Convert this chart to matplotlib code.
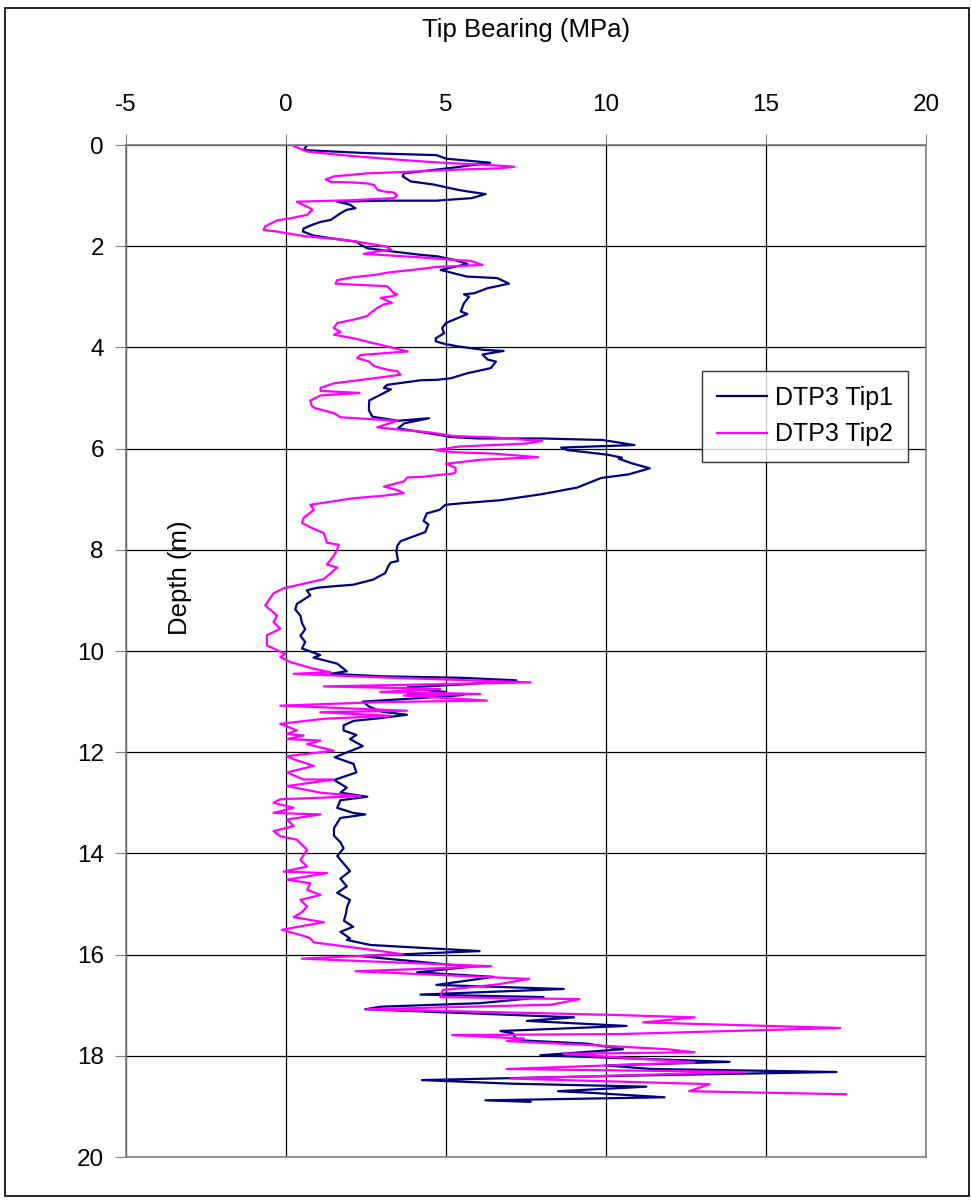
import matplotlib
matplotlib.use("Agg")
import matplotlib.pyplot as plt
from matplotlib.patches import Rectangle

plt.rcParams['font.family'] = ['Liberation Sans', 'DejaVu Sans']
plt.rcParams['axes.unicode_minus'] = False

# DTP3 Tip1 - depth (m) and tip bearing (MPa)
tip1_depth = [0.03, 0.10, 0.16, 0.20, 0.27, 0.35, 0.45, 0.56, 0.62, 0.72, 0.78, 0.89, 0.92, 0.97,
              1.05, 1.10, 1.10, 1.12, 1.18, 1.25, 1.28, 1.35, 1.48, 1.52, 1.59, 1.65, 1.71, 1.79,
              1.86, 1.91, 1.97, 2.04, 2.10, 2.17, 2.20, 2.27, 2.35, 2.47, 2.60, 2.63, 2.74, 2.83,
              2.93, 2.95, 3.00, 3.13, 3.29, 3.34, 3.45, 3.52, 3.62, 3.72, 3.82, 3.88, 3.92, 3.98,
              4.05, 4.07, 4.14, 4.24, 4.28, 4.41, 4.51, 4.61, 4.64, 4.65, 4.74, 4.80, 4.83, 4.92,
              5.05, 5.24, 5.37, 5.45, 5.40, 5.50, 5.60, 5.67, 5.73, 5.77, 5.80, 5.80, 5.83, 5.93,
              5.98, 6.03, 6.12, 6.18, 6.20, 6.29, 6.39, 6.51, 6.58, 6.77, 6.90, 7.02, 7.08, 7.11,
              7.21, 7.28, 7.43, 7.50, 7.65, 7.83, 7.92, 8.03, 8.22, 8.25, 8.32, 8.46, 8.59, 8.69,
              8.72, 8.75, 8.80, 8.90, 9.07, 9.18, 9.30, 9.45, 9.57, 9.70, 9.82, 9.95, 10.08, 10.13,
              10.25, 10.40, 10.45, 10.50, 10.53, 10.58, 10.65, 10.72, 10.77, 10.81, 10.86, 10.87,
              10.93, 11.00, 11.10, 11.20, 11.26, 11.33, 11.38, 11.47, 11.57, 11.66, 11.74, 11.88,
              11.98, 12.10, 12.23, 12.40, 12.55, 12.70, 12.80, 12.88, 12.95, 13.10, 13.20, 13.23,
              13.30, 13.50, 13.65, 13.78, 13.90, 14.05, 14.20, 14.35, 14.50, 14.65, 14.78, 14.92,
              15.05, 15.20, 15.33, 15.45, 15.55, 15.68, 15.71, 15.81, 15.93, 16.03, 16.24, 16.35,
              16.44, 16.60, 16.68, 16.79, 16.84, 16.96, 17.03, 17.08, 17.24, 17.31, 17.41, 17.51,
              17.56, 17.69, 17.76, 17.87, 17.99, 18.12, 18.19, 18.26, 18.32, 18.40, 18.48, 18.55,
              18.61, 18.70, 18.73, 18.82, 18.88, 18.91]
tip1_value = [0.63, 0.55, 2.5, 4.7, 5.0, 6.38, 5.2, 3.68, 3.65, 3.9, 4.6, 5.4, 5.7, 6.24,
              5.8, 4.7, 3.2, 1.6, 2.0, 2.17, 1.9, 1.7, 1.4, 1.08, 0.77, 0.55, 0.53, 0.86,
              1.6, 2.2, 2.33, 2.54, 3.27, 4.2, 4.73, 5.25, 5.67, 4.83, 5.65, 6.6, 6.97, 6.3,
              5.88, 5.56, 5.72, 5.56, 5.46, 5.67, 5.25, 4.99, 4.88, 4.94, 4.68, 4.68, 4.89, 5.36,
              6.2, 6.8, 6.14, 6.3, 6.56, 6.4, 5.67, 5.15, 4.73, 4.2, 3.16, 3.06, 3.28, 3.0,
              2.6, 2.59, 2.7, 3.5, 4.47, 3.7, 3.5, 4.2, 4.8, 5.15, 6.0, 8.0, 9.9, 10.89,
              8.6, 8.8, 10.05, 10.5, 10.4, 10.8, 11.37, 10.7, 9.85, 9.1, 8.0, 6.7, 5.5, 4.98,
              4.8, 4.4, 4.3, 4.45, 4.35, 3.58, 3.48, 3.45, 3.5, 3.28, 3.2, 3.1, 2.72, 2.1,
              1.5, 0.98, 0.65, 0.76, 0.34, 0.29, 0.45, 0.5, 0.6, 0.45, 0.6, 0.5, 1.07, 0.86,
              1.6, 1.9, 1.4, 3.0, 5.5, 7.2, 5.8, 3.78, 4.3, 5.0, 3.8, 5.55,
              4.2, 2.4, 2.6, 3.0, 3.78, 2.9, 2.12, 1.8, 1.8, 2.2, 2.0, 2.4,
              2.0, 1.52, 2.11, 2.2, 1.5, 1.9, 1.7, 2.54, 1.7, 1.6, 2.1, 2.48,
              1.7, 1.5, 1.5, 1.7, 1.8, 1.6, 1.8, 2.0, 1.7, 1.9, 1.6, 2.0,
              1.91, 1.87, 1.81, 2.1, 1.7, 2.0, 1.9, 2.64, 6.05, 2.32, 5.76, 4.1,
              6.49, 4.7, 8.68, 4.2, 8.05, 6.07, 2.95, 2.48, 9.0, 7.53, 10.64, 6.7,
              7.1, 7.2, 9.4, 10.53, 7.95, 13.86, 9.97, 11.4, 17.2, 10.0, 4.25, 7.0,
              11.26, 8.5, 9.47, 11.83, 6.23, 7.64]

# DTP3 Tip2
tip2_depth = [0.02, 0.13, 0.22, 0.30, 0.36, 0.38, 0.41, 0.43, 0.46, 0.49, 0.52, 0.56, 0.62, 0.68,
              0.73, 0.74, 0.76, 0.79, 0.88, 0.92, 0.94, 1.00, 1.05, 1.09, 1.12, 1.16, 1.25, 1.28,
              1.38, 1.45, 1.49, 1.61, 1.68, 1.71, 1.80, 1.86, 1.91, 2.01, 2.06, 2.15, 2.18, 2.22,
              2.27, 2.29, 2.37, 2.41, 2.45, 2.52, 2.57, 2.61, 2.67, 2.74, 2.76, 2.79, 2.93, 2.95,
              2.99, 3.02, 3.12, 3.15, 3.22, 3.32, 3.38, 3.45, 3.52, 3.62, 3.69, 3.75, 3.82, 3.92,
              3.98, 4.08, 4.15, 4.21, 4.28, 4.37, 4.44, 4.47, 4.54, 4.61, 4.71, 4.80, 4.86, 4.90,
              4.95, 5.05, 5.15, 5.20, 5.30, 5.38, 5.45, 5.58, 5.63, 5.68, 5.75, 5.78, 5.85, 5.90,
              5.96, 6.03, 6.07, 6.10, 6.17, 6.22, 6.30, 6.38, 6.46, 6.49, 6.56, 6.57, 6.65, 6.75,
              6.82, 6.88, 6.93, 6.98, 7.08, 7.11, 7.21, 7.37, 7.47, 7.57, 7.67, 7.86, 7.90, 7.99,
              8.12, 8.29, 8.35, 8.58, 8.76, 8.86, 9.10, 9.30, 9.43, 9.56, 9.69, 9.89, 10.06, 10.12,
              10.22, 10.35, 10.42, 10.45, 10.52, 10.62, 10.70, 10.75, 10.81, 10.85, 10.88, 10.98,
              11.01, 11.08, 11.18, 11.21, 11.28, 11.34, 11.44, 11.57, 11.64, 11.67, 11.74, 11.77,
              11.84, 11.97, 12.08, 12.14, 12.27, 12.40, 12.54, 12.54, 12.67, 12.80, 12.87, 12.93,
              13.00, 13.10, 13.20, 13.23, 13.33, 13.46, 13.56, 13.66, 13.73, 13.93, 14.13, 14.26,
              14.36, 14.39, 14.52, 14.59, 14.72, 14.82, 14.92, 15.05, 15.16, 15.26, 15.36, 15.43,
              15.51, 15.63, 15.68, 15.76, 15.81, 15.86, 15.93, 15.99, 16.08, 16.23, 16.33, 16.48,
              16.59, 16.70, 16.84, 16.88, 16.99, 17.08, 17.19, 17.24, 17.34, 17.45, 17.57, 17.59,
              17.66, 17.71, 17.79, 17.87, 17.93, 17.96, 18.13, 18.26, 18.32, 18.45, 18.56, 18.70,
              18.76]
tip2_value = [0.24, 0.66, 2.1, 3.7, 5.1, 5.9, 6.7, 7.13, 6.7, 5.2, 4.2, 2.54, 1.5, 1.24,
              1.4, 2.1, 2.54, 2.75, 2.85, 3.06, 3.37, 3.47, 3.37, 2.1, 0.34, 0.45, 0.76, 0.82,
              0.66, 0.13, -0.28, -0.65, -0.7, -0.28, 0.55, 1.6, 2.22, 3.16, 3.27, 2.43, 3.16, 4.2,
              5.25, 5.77, 6.14, 4.7, 4.2, 3.2, 2.75, 2.12, 1.6, 1.55, 2.12, 3.16, 3.37, 3.48,
              3.31, 2.96, 3.31, 3.06, 2.85, 2.64, 2.54, 2.12, 1.6, 1.49, 1.7, 1.5, 2.12, 2.75,
              3.16, 3.8, 2.33, 2.22, 2.59, 2.75, 3.16, 3.48, 3.58, 2.75, 1.5, 1.08, 1.08, 2.3,
              1.08, 0.76, 0.8, 0.9, 1.5, 1.7, 3.48, 2.85, 3.6, 4.5, 5.2, 6.5, 8.0, 7.5,
              5.4, 4.66, 5.2, 6.5, 7.88, 6.1, 5.0, 5.3, 5.3, 5.25, 4.2, 3.79, 3.68, 3.06,
              3.48, 3.68, 3.06, 2.12, 1.08, 0.76, 0.87, 0.55, 0.5, 0.81, 1.18, 1.28, 1.65, 1.6,
              1.49, 1.28, 1.6, 1.18, -0.07, -0.39, -0.65, -0.28, -0.39, -0.18, -0.6, -0.6, -0.02, -0.18,
              0.14, 0.86, 1.39, 0.24, 2.95, 7.64, 1.18, 4.82, 2.95, 6.07, 3.68, 6.28,
              2.95, -0.18, 3.78, 1.07, 3.26, 1.18, -0.18, 0.34, 0.03, 0.55, 0.03, 1.07,
              0.66, 1.49, 0.03, 0.24, 0.87, 0.03, 0.55, 1.49, 0.03, 1.08, 2.33, -0.18,
              -0.39, 0.24, -0.39, 1.08, 0.03, 0.24, -0.39, -0.18, 0.34, 0.66, 0.45, 0.66,
              -0.07, 1.28, 0.03, 0.76, 0.66, 1.08, 0.45, 0.66, 0.5, 0.24, 1.18, 0.55,
              -0.13, 0.55, 0.76, 0.87, 1.49, 2.12, 2.95, 3.63, 0.5, 6.42, 2.17, 7.6,
              6.6, 4.9, 4.82, 9.17, 8.3, 2.53, 10.1, 12.77, 11.16, 17.32, 10.43, 5.19,
              7.43, 6.9, 9.6, 11.9, 12.77, 8.68, 12.77, 6.9, 14.33, 7.0, 13.24, 12.6,
              17.5]

x_ticks = [-5, 0, 5, 10, 15, 20]
y_ticks = [0, 2, 4, 6, 8, 10, 12, 14, 16, 18, 20]

W, H = 971, 1201
fig = plt.figure(figsize=(W / 100, H / 100), dpi=100)
ax = fig.add_axes([126 / W, 1 - 1157 / H, 800 / W, 1012 / H])

ax.plot(tip1_value, tip1_depth, color='#000080', lw=1.6, label='DTP3 Tip1')
ax.plot(tip2_value, tip2_depth, color='#FF00FF', lw=1.6, label='DTP3 Tip2')

ax.set_xlim(-5, 20)
ax.set_ylim(20, 0)
ax.set_xticks(x_ticks)
ax.set_yticks(y_ticks)
ax.xaxis.tick_top()
ax.tick_params(axis='both', labelsize=17.5, direction='out', length=8, color='#808080')
ax.tick_params(axis='x', pad=13)
ax.tick_params(axis='y', pad=8)
ax.grid(True, color='black', lw=0.9)
for s in ax.spines.values():
    s.set_color('#808080')
    s.set_linewidth(1.2)

fig.text(526 / W, 1 - 30 / H, 'Tip Bearing (MPa)', ha='center', va='center', fontsize=18.5)
fig.text(180 / W, 1 - 578 / H, 'Depth (m)', ha='center', va='center', rotation=90, fontsize=18.5)

leg = ax.legend(loc='upper left', bbox_to_anchor=(702 / W, 1 - 371 / H),
                bbox_transform=fig.transFigure, fontsize=18, frameon=True,
                fancybox=False, borderaxespad=0, handlelength=2.0, handletextpad=0.3,
                borderpad=0.6, labelspacing=0.5)
leg.get_frame().set_edgecolor('black')
leg.get_frame().set_linewidth(1.0)

fig.patches.append(Rectangle((5 / W, 5 / H), 1 - 7 / W, 1 - 13 / H, transform=fig.transFigure,
                             fill=False, edgecolor='black', lw=1.2))

fig.savefig('out.png', dpi=100)
